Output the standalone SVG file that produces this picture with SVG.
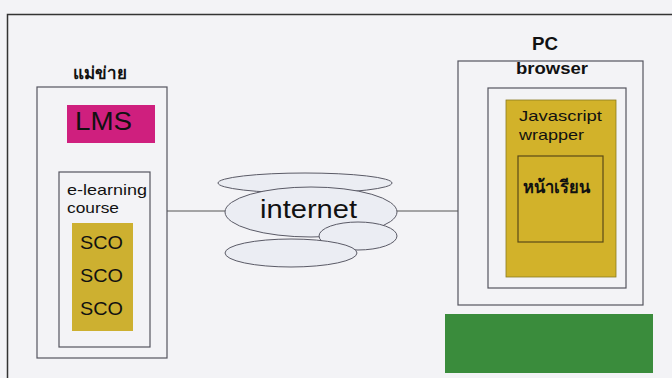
<svg xmlns="http://www.w3.org/2000/svg" width="672" height="378" viewBox="0 0 672 378">
<style>
.box{fill:none;stroke:#55555f;stroke-width:1.2}
.t{font-family:"Liberation Sans",Arial,sans-serif;fill:#111}
.b{font-weight:bold}
.th{font-family:"Liberation Serif","Noto Sans","DejaVu Sans",serif;fill:#111;font-weight:bold}
.cloud{fill:#ebedf3;stroke:#5a5a66;stroke-width:1}
.conn{stroke:#555;stroke-width:1;fill:none}
</style>
<rect x="0" y="0" width="672" height="378" fill="#f3f3f6"/>
<path d="M7.5 378 V14.5 H672" fill="none" stroke="#333" stroke-width="1.5"/>
<g id="connectors">
<line class="conn" x1="167" y1="211" x2="226" y2="211"/>
<line class="conn" x1="397" y1="211" x2="458" y2="211"/>
</g>
<g id="server">
<text class="th" x="73" y="79" font-size="17" textLength="54" lengthAdjust="spacingAndGlyphs">แม่ข่าย</text>
<rect class="box" x="37" y="87" width="130" height="271"/>
</g>
<g id="lms">
<rect x="67" y="105" width="88" height="38" fill="#cf1f7e"/>
<text class="t" x="75" y="130" font-size="25" textLength="57" lengthAdjust="spacingAndGlyphs">LMS</text>
</g>
<g id="course">
<rect class="box" x="59" y="172" width="91" height="175"/>
<text class="t" x="67" y="195" font-size="15" textLength="80" lengthAdjust="spacingAndGlyphs">e-learning</text>
<text class="t" x="67" y="213" font-size="15" textLength="52" lengthAdjust="spacingAndGlyphs">course</text>
</g>
<g id="sco">
<rect x="72" y="223" width="61" height="108" fill="#cdb030"/>
<text class="t" x="80" y="249" font-size="19" textLength="43" lengthAdjust="spacingAndGlyphs">SCO</text>
<text class="t" x="80" y="282" font-size="19" textLength="43" lengthAdjust="spacingAndGlyphs">SCO</text>
<text class="t" x="80" y="315" font-size="19" textLength="43" lengthAdjust="spacingAndGlyphs">SCO</text>
</g>
<g id="internet">
<ellipse class="cloud" cx="305" cy="183" rx="87" ry="10"/>
<ellipse class="cloud" cx="311" cy="212" rx="86" ry="25"/>
<ellipse class="cloud" cx="358" cy="236" rx="39" ry="14"/>
<ellipse class="cloud" cx="291" cy="253" rx="66" ry="14"/>
<text class="t" x="260" y="218" font-size="25" textLength="97" lengthAdjust="spacingAndGlyphs">internet</text>
</g>
<g id="pc">
<text class="t b" x="532" y="50" font-size="18" textLength="26" lengthAdjust="spacingAndGlyphs">PC</text>
<rect class="box" x="458" y="61" width="185" height="244"/>
</g>
<g id="browser">
<text class="t b" x="516" y="74" font-size="16" textLength="72" lengthAdjust="spacingAndGlyphs">browser</text>
<rect class="box" x="488" y="88" width="138" height="200"/>
</g>
<g id="wrapper">
<rect x="506" y="100" width="110" height="177" fill="#d2b22a" stroke="#8a7a20" stroke-width="0.8"/>
<text class="t" x="519" y="121" font-size="15" textLength="83" lengthAdjust="spacingAndGlyphs">Javascript</text>
<text class="t" x="519" y="140" font-size="15" textLength="65" lengthAdjust="spacingAndGlyphs">wrapper</text>
</g>
<g id="lesson">
<rect x="518" y="156" width="85" height="86" fill="none" stroke="#5a4a18" stroke-width="1.2"/>
<text class="th" x="523" y="193" font-size="18" textLength="67" lengthAdjust="spacingAndGlyphs">หน้าเรียน</text>
</g>
<g id="green">
<rect x="445" y="314" width="208" height="59" fill="#3a8c3c"/>
</g>
</svg>
